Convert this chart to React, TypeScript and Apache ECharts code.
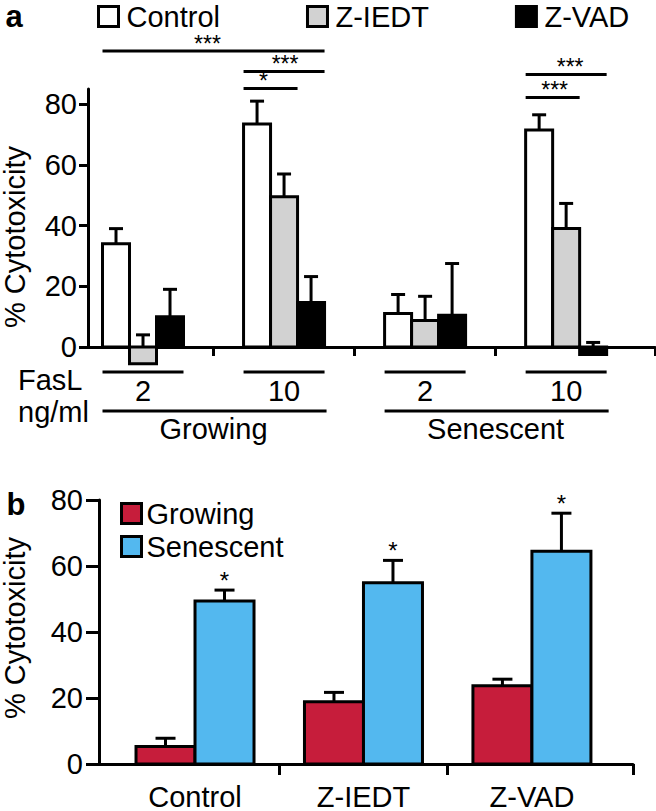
import React, { useEffect, useRef } from "react";
import * as echarts from "echarts";

// ---------- Panel a data ----------
const treatmentsA = ["Control", "Z-IEDT", "Z-VAD"];
const doseLabelsA = ["2", "10", "2", "10"];
const stateLabelsA = ["Growing", "Senescent"];
const controlA = [34, 73.5, 11, 71.5];
const controlErrA = [5, 7.5, 6.3, 5];
const zIedtA = [-5.5, 49.5, 8.7, 39];
const zIedtErrA = [9.5, 7.5, 8, 8.3];
const zVadA = [10, 14.7, 10.5, -2.5];
const zVadErrA = [9, 8.5, 17, 4];
const yTicksA = [0, 20, 40, 60, 80];
// significance brackets: from [group, treatment] to [group, treatment], level (y units), label
const bracketsA = [
  { from: [0, 0], to: [1, 2], level: 97.5, label: "***", dx: -6 },
  { from: [1, 0], to: [1, 2], level: 90.8, label: "***", dx: 1 },
  { from: [1, 0], to: [1, 1], level: 85.2, label: "*", dx: -7 },
  { from: [3, 0], to: [3, 2], level: 89.8, label: "***", dx: 4 },
  { from: [3, 0], to: [3, 1], level: 82.2, label: "***", dx: 2 },
];

// ---------- Panel b data ----------
const categoriesB = ["Control", "Z-IEDT", "Z-VAD"];
const seriesNamesB = ["Growing", "Senescent"];
const growingB = [5.3, 18.9, 23.7];
const growingErrB = [2.5, 2.8, 2];
const senescentB = [49.4, 54.9, 64.5];
const senescentErrB = [3.3, 6.8, 11.5];
const starsB = ["*", "*", "*"];
const yTicksB = [0, 20, 40, 60, 80];

const FONT = "'Liberation Sans', Arial, Helvetica, sans-serif";
const fillsA = ["#ffffff", "#d2d2d2", "#000000"];
const fillsB = ["#c61d3b", "#53b8ef"];
const BW_A = 27;
const BW_B = 59;
const LW = 3;

function barRender(offset: number, barW: number, capW: number, fill: string) {
  return (params: any, api: any) => {
    const xi = api.value(0);
    const v = api.value(1);
    const e = api.value(2);
    const p0 = api.coord([xi, 0]);
    const p1 = api.coord([xi, v]);
    const p2 = api.coord([xi, v + e]);
    const cx = p0[0] + offset;
    return {
      type: "group",
      children: [
        { type: "line", shape: { x1: cx, y1: p1[1], x2: cx, y2: p2[1] }, style: { stroke: "#000", lineWidth: LW } },
        { type: "line", shape: { x1: cx - capW / 2, y1: p2[1], x2: cx + capW / 2, y2: p2[1] }, style: { stroke: "#000", lineWidth: LW } },
        {
          type: "rect",
          shape: { x: cx - barW / 2, y: Math.min(p0[1], p1[1]), width: barW, height: Math.abs(p1[1] - p0[1]) },
          style: { fill, stroke: "#000", lineWidth: LW },
        },
      ],
    };
  };
}

const valuesA = [controlA, zIedtA, zVadA];
const errsA = [controlErrA, zIedtErrA, zVadErrA];
const valuesB = [growingB, senescentB];
const errsB = [growingErrB, senescentErrB];

const axisLineStyle = { color: "#000", width: LW };

const option: any = {
  animation: false,
  textStyle: { fontFamily: FONT },
  grid: [
    { left: 88, top: 89, width: 567, height: 258 },
    { left: 99, top: 500, width: 534, height: 266 },
  ],
  legend: [
    {
      data: treatmentsA.map((n, k) => ({ name: n, itemStyle: { color: fillsA[k], borderColor: "#000", borderWidth: LW } })),
      left: 97,
      top: 2,
      padding: 0,
      icon: "rect",
      itemWidth: 20,
      itemHeight: 20,
      itemGap: 86,
      selectedMode: false,
      textStyle: { fontSize: 29, fontFamily: FONT, color: "#000", padding: [0, 0, 0, 3] },
    },
    {
      data: seriesNamesB.map((n, k) => ({ name: n, itemStyle: { color: fillsB[k], borderColor: "#000", borderWidth: LW } })),
      orient: "vertical",
      left: 120,
      top: 499,
      padding: 0,
      icon: "rect",
      itemWidth: 20,
      itemHeight: 20,
      itemGap: 4,
      selectedMode: false,
      textStyle: { fontSize: 29, fontFamily: FONT, color: "#000" },
    },
  ],
  xAxis: [
    {
      type: "value",
      gridIndex: 0,
      min: -0.39,
      max: 3.63,
      axisLine: { show: true, onZero: false, lineStyle: axisLineStyle },
      axisTick: { show: true, customValues: [0.5, 1.5, 2.5, 3.63], length: 9, lineStyle: axisLineStyle },
      axisLabel: { show: false },
      splitLine: { show: false },
    },
    {
      type: "value",
      gridIndex: 1,
      min: -0.57,
      max: 2.6,
      axisLine: { show: true, onZero: false, lineStyle: axisLineStyle },
      axisTick: { show: true, customValues: [0.5, 1.5, 2.6], length: 11, lineStyle: axisLineStyle },
      axisLabel: {
        show: true,
        customValues: [0, 1, 2],
        formatter: (v: number) => categoriesB[Math.round(v)] ?? "",
        fontSize: 29,
        fontFamily: FONT,
        color: "#000",
        margin: 18,
      },
      splitLine: { show: false },
    },
  ],
  yAxis: [
    {
      type: "value",
      gridIndex: 0,
      min: 0,
      max: 85,
      axisLine: { show: true, onZero: false, lineStyle: axisLineStyle },
      axisTick: { show: true, customValues: yTicksA, length: 9, lineStyle: axisLineStyle },
      axisLabel: { show: true, customValues: yTicksA, fontSize: 29, fontFamily: FONT, color: "#000", margin: 11 },
      splitLine: { show: false },
    },
    {
      type: "value",
      gridIndex: 1,
      min: 0,
      max: 80,
      axisLine: { show: true, onZero: false, lineStyle: axisLineStyle },
      axisTick: { show: true, customValues: yTicksB, length: 13, lineStyle: axisLineStyle },
      axisLabel: { show: true, customValues: yTicksB, fontSize: 29, fontFamily: FONT, color: "#000", margin: 16 },
      splitLine: { show: false },
    },
  ],
  series: [
    ...treatmentsA.map((name, k) => ({
      type: "custom",
      name,
      xAxisIndex: 0,
      yAxisIndex: 0,
      clip: false,
      z: 3,
      encode: { x: 0, y: 1 },
      data: valuesA[k].map((v, i) => [i, v, errsA[k][i]]),
      renderItem: barRender((k - 1) * BW_A, BW_A, 14, fillsA[k]),
    })),
    ...seriesNamesB.map((name, k) => ({
      type: "custom",
      name,
      xAxisIndex: 1,
      yAxisIndex: 1,
      clip: false,
      z: 3,
      encode: { x: 0, y: 1 },
      data: valuesB[k].map((v, i) => [i, v, errsB[k][i]]),
      renderItem: barRender((k - 0.5) * BW_B, BW_B, 20, fillsB[k]),
    })),
  ],
};

export default function App() {
  const ref = useRef<HTMLDivElement>(null);
  useEffect(() => {
    const chart = echarts.init(ref.current!, null, { renderer: "svg" });
    chart.setOption(option);

    const pa = (x: number, y: number) => chart.convertToPixel({ xAxisIndex: 0, yAxisIndex: 0 } as any, [x, y]) as number[];
    const pb = (x: number, y: number) => chart.convertToPixel({ xAxisIndex: 1, yAxisIndex: 1 } as any, [x, y]) as number[];

    const line = (x1: number, y1: number, x2: number, y2: number) => ({
      type: "line",
      shape: { x1, y1, x2, y2 },
      style: { stroke: "#000", lineWidth: LW },
      z: 10,
    });
    const text = (t: string, x: number, y: number, size = 29, align = "center", extra: any = {}) => ({
      type: "text",
      x,
      y,
      z: 10,
      ...extra,
      style: { text: t, fontSize: size, fontFamily: FONT, fill: "#000", align, verticalAlign: "middle", ...(extra.style || {}) },
    });

    const g: any[] = [];
    // panel letters
    g.push(text("a", 14, 16, 31, "center", { style: { fontWeight: "bold" } }));
    g.push(text("b", 16, 504, 31, "center", { style: { fontWeight: "bold" } }));
    // y titles
    g.push(text("% Cytotoxicity", 15, 237, 29, "center", { rotation: Math.PI / 2 }));
    g.push(text("% Cytotoxicity", 15, 628, 29, "center", { rotation: Math.PI / 2 }));

    // panel a: dose lines & labels
    const base = pa(0, 0)[1];
    const groupExtent = (i: number) => {
      const c = pa(i, 0)[0];
      return [c - 1.5 * BW_A, c + 1.5 * BW_A, c];
    };
    doseLabelsA.forEach((d, i) => {
      const [l, r, c] = groupExtent(i);
      g.push(line(l, base + 25, r, base + 25));
      g.push(text(d, c, base + 44));
    });
    stateLabelsA.forEach((s, j) => {
      const [l] = groupExtent(j * 2);
      const [, r] = groupExtent(j * 2 + 1);
      g.push(line(l, base + 64, r + 2, base + 64));
      g.push(text(s, (l + r) / 2, base + 82));
    });
    g.push(text("FasL", 18, base + 33, 29, "left"));
    g.push(text("ng/ml", 18, base + 65, 29, "left"));

    // panel a significance brackets
    bracketsA.forEach((b) => {
      const xl = pa(b.from[0], 0)[0] + (b.from[1] - 1) * BW_A - BW_A / 2;
      const xr = pa(b.to[0], 0)[0] + (b.to[1] - 1) * BW_A + BW_A / 2;
      const y = pa(0, b.level)[1];
      g.push(line(xl, y, xr, y));
      g.push(text(b.label, (xl + xr) / 2 + b.dx, y - 7, 23, "center", { style: { lineHeight: 10 } }));
    });

    // panel b stars above senescent bars
    starsB.forEach((s, i) => {
      const p = pb(i, senescentB[i] + senescentErrB[i]);
      g.push(text(s, p[0] + 0.5 * BW_B, p[1] - 10, 24, "center", { style: { lineHeight: 10 } }));
    });

    chart.setOption({ graphic: g });
    return () => chart.dispose();
  }, []);
  return <div ref={ref} style={{ position: "absolute", left: 0, top: 0, width: 656, height: 811 }} />;
}
